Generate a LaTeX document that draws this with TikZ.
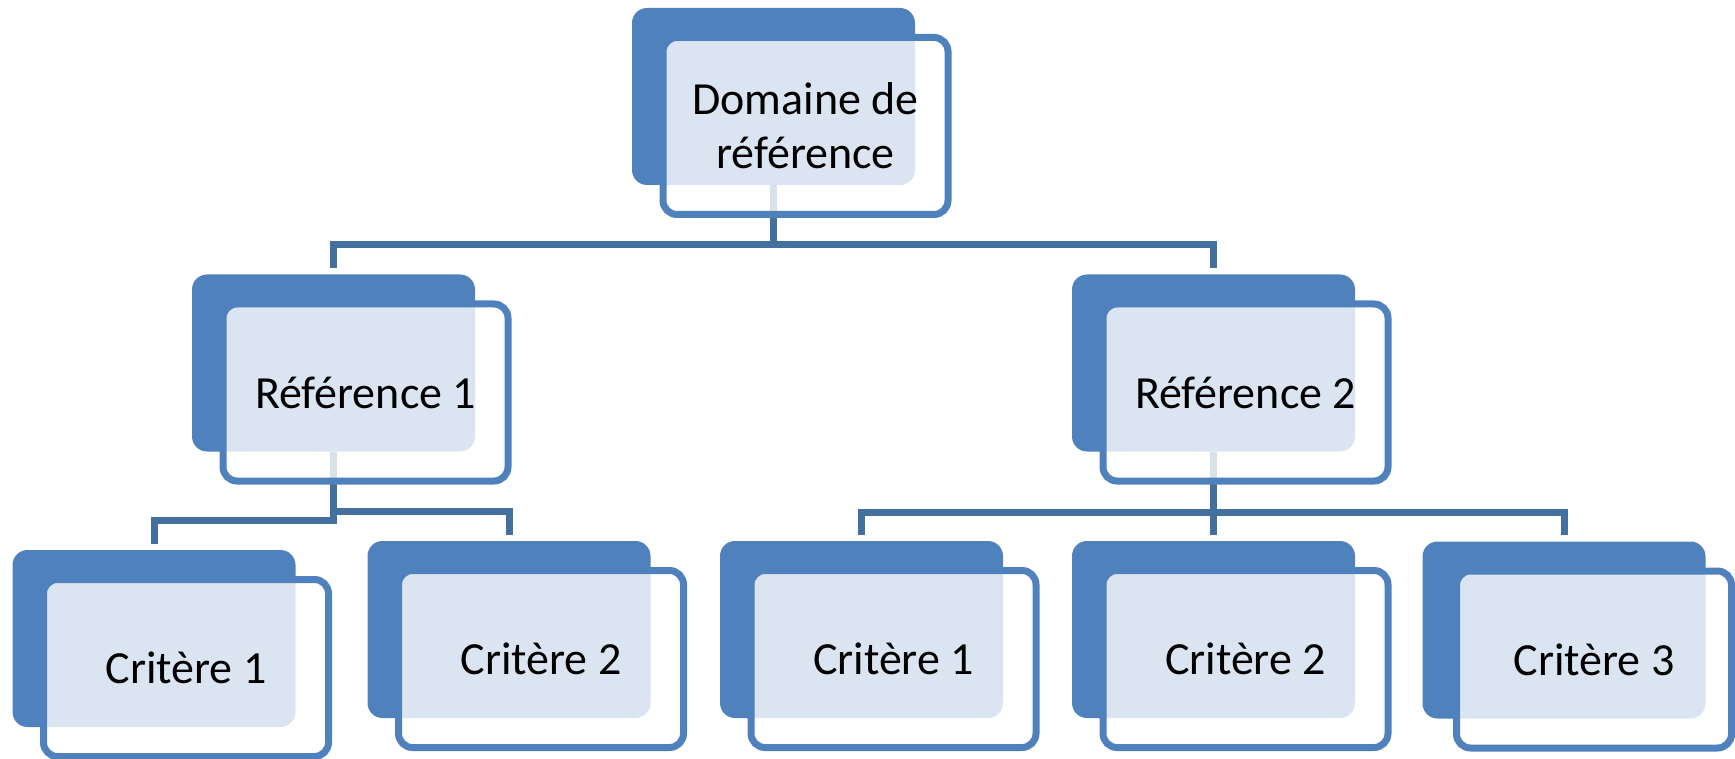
\documentclass[tikz,border=0pt]{standalone}
\usepackage{fontspec}
\setmainfont{Carlito}
\definecolor{boxblue}{HTML}{4F81BD}
\definecolor{lineblue}{HTML}{43709E}

\begin{document}
\begin{tikzpicture}[x=0.5pt, y=-0.5pt,
  back/.style={rectangle, fill=boxblue, rounded corners=7.5pt, minimum width=141.5pt, minimum height=88.5pt, inner sep=0pt},
  front/.style={rectangle, draw=boxblue, line width=3.5pt, fill=white, fill opacity=0.8, text opacity=1, rounded corners=7pt,
    minimum width=142.5pt, minimum height=88.5pt, align=center, font=\fontsize{23}{27}\selectfont},
  link/.style={draw=lineblue, line width=3.5pt}]

\useasboundingbox (0,0) rectangle (1735,759);

% draw back boxes
\node[back] (dom-b) at (773.5,96.5) {};
\node[back] (ref1-b) at (333.5,363) {};
\node[back] (ref2-b) at (1213.5,363) {};
\node[back] (c11-b) at (154,638.5) {};
\node[back] (c12-b) at (509,629.5) {};
\node[back] (c21-b) at (861.5,629.5) {};
\node[back] (c22-b) at (1213.5,629.5) {};
\node[back] (c23-b) at (1564,630) {};

% draw connectors
\coordinate (bus-top) at (0,245);
\coordinate (bus-l1) at (0,520);
\coordinate (bus-l2) at (0,511);
\coordinate (bus-r) at (0,512);

\draw[link] (dom-b.south) -- (dom-b.south |- bus-top) -| ([yshift=3pt]ref1-b.north);
\draw[link] (dom-b.south) -- (dom-b.south |- bus-top) -| ([yshift=3pt]ref2-b.north);

\draw[link] (ref1-b.south) -- (ref1-b.south |- bus-l1) -| ([yshift=3pt]c11-b.north);
\draw[link] (ref1-b.south) -- (ref1-b.south |- bus-l2) -| ([yshift=3pt]c12-b.north);

\draw[link] (ref2-b.south) -- (ref2-b.south |- bus-r) -| ([yshift=3pt]c21-b.north);
\draw[link] (ref2-b.south) -- ([yshift=3pt]c22-b.north);
\draw[link] (ref2-b.south) -- (ref2-b.south |- bus-r) -| ([yshift=3pt]c23-b.north);

% draw front boxes
\node[front] (dom) at ([shift={(32,29.5)}]dom-b.center) {Domaine de\\référence};
\node[front] (ref1) at ([shift={(32,29.5)}]ref1-b.center) {Référence 1};
\node[front] (ref2) at ([shift={(32,29.5)}]ref2-b.center) {Référence 2};
\node[front] (c11) at ([shift={(32,29.5)}]c11-b.center) {Critère 1};
\node[front] (c12) at ([shift={(32,29.5)}]c12-b.center) {Critère 2};
\node[front] (c21) at ([shift={(32,29.5)}]c21-b.center) {Critère 1};
\node[front] (c22) at ([shift={(32,29.5)}]c22-b.center) {Critère 2};
\node[front, minimum width=137.5pt] (c23) at ([shift={(30,29.5)}]c23-b.center) {Critère 3};

\end{tikzpicture}
\end{document}
